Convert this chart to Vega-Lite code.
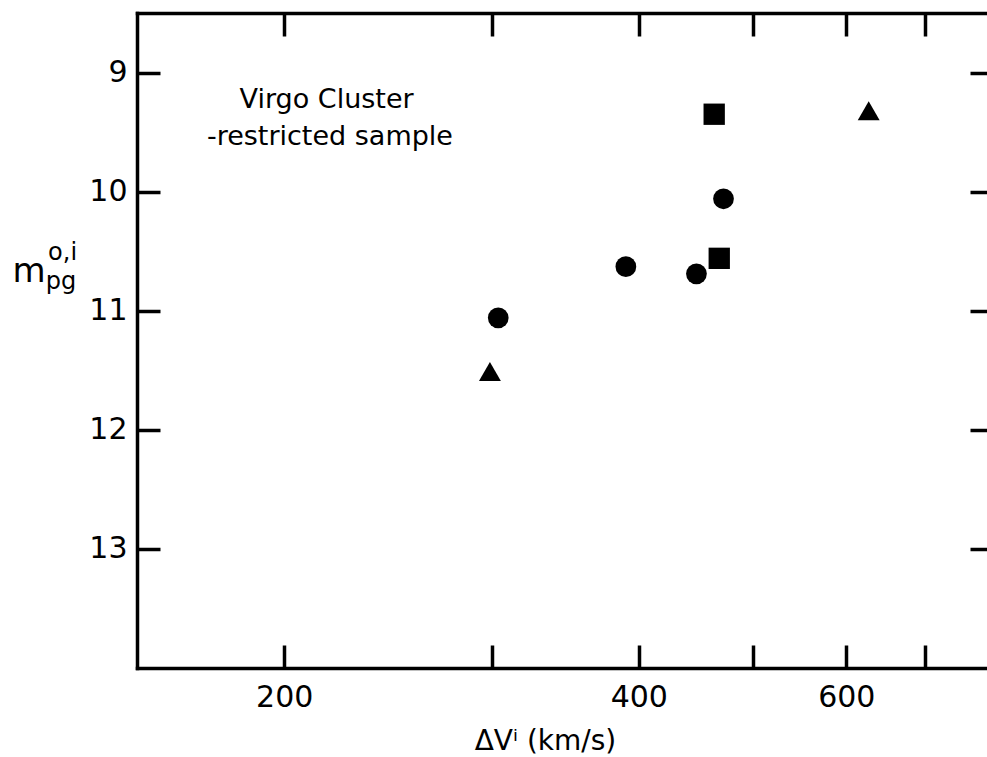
{
  "$schema": "https://vega.github.io/schema/vega-lite/v6.json",
  "width": 850,
  "height": 655,
  "autosize": {"type": "none"},
  "padding": {"left": 137, "top": 13, "right": 0, "bottom": 89},
  "background": "white",
  "config": {
    "view": {"stroke": null},
    "axis": {
      "domain": true,
      "domainColor": "black",
      "domainWidth": 3.5,
      "domainCap": "square",
      "grid": false,
      "tickColor": "black",
      "tickWidth": 3.5,
      "tickSize": -23,
      "labelFont": "DejaVu Sans",
      "labelFontSize": 30,
      "labelColor": "black",
      "titleFont": "DejaVu Sans",
      "titleColor": "black",
      "titleFontWeight": "normal"
    }
  },
  "datasets": {
    "points": [
      {"dv": 303.9, "m": 11.06, "type": "circle"},
      {"dv": 390.0, "m": 10.63, "type": "circle"},
      {"dv": 447.7, "m": 10.69, "type": "circle"},
      {"dv": 472.0, "m": 10.06, "type": "circle"},
      {"dv": 468.1, "m": 10.56, "type": "square"},
      {"dv": 463.5, "m": 9.35, "type": "square"},
      {"dv": 299.0, "m": 11.51, "type": "triangle"},
      {"dv": 626.9, "m": 9.32, "type": "triangle"}
    ],
    "note": [
      {"x": 217.3, "y": 9.30, "text": "Virgo Cluster"},
      {"x": 218.7, "y": 9.61, "text": "-restricted sample"}
    ],
    "ysub": [
      {"x": 129.7, "y": 10.574, "text": "o,i"},
      {"x": 129.3, "y": 10.817, "text": "pg"}
    ]
  },
  "layer": [
    {
      "data": {"name": "points"},
      "mark": {"type": "point", "filled": true, "opacity": 1, "color": "black"},
      "encoding": {
        "x": {
          "field": "dv", "type": "quantitative",
          "scale": {"type": "log", "domain": [150, 790], "nice": false},
          "axis": {
            "orient": "bottom",
            "values": [200, 300, 400, 500, 600, 700],
            "format": "d",
            "labelExpr": "datum.value == 200 || datum.value == 400 || datum.value == 600 ? datum.label : ''",
            "labelPadding": 37,
            "title": "ΔVⁱ (km/s)",
            "titleFontSize": 28,
            "titleX": 408,
            "titleY": 81,
            "titleAlign": "center",
            "titleBaseline": "alphabetic"
          }
        },
        "y": {
          "field": "m", "type": "quantitative",
          "scale": {"domain": [8.5, 14], "reverse": true, "nice": false, "zero": false},
          "axis": {
            "orient": "left",
            "values": [9, 10, 11, 12, 13],
            "labelPadding": 33,
            "title": "m",
            "titleAngle": 0,
            "titleFontSize": 34,
            "titleX": -108.5,
            "titleY": 268,
            "titleAlign": "center",
            "titleBaseline": "alphabetic"
          }
        },
        "shape": {
          "field": "type", "type": "nominal",
          "scale": {"domain": ["circle", "square", "triangle"], "range": ["circle", "square", "triangle-up"]},
          "legend": null
        },
        "size": {
          "field": "type", "type": "ordinal",
          "scale": {"domain": ["circle", "square", "triangle"], "range": [430, 480, 640]},
          "legend": null
        }
      }
    },
    {
      "data": {"name": "note"},
      "mark": {"type": "text", "font": "DejaVu Sans", "fontSize": 27, "align": "center", "baseline": "alphabetic", "color": "black"},
      "encoding": {
        "x": {
          "field": "x", "type": "quantitative",
          "scale": {"type": "log", "domain": [150, 790], "nice": false},
          "axis": {"orient": "top", "values": [200, 300, 400, 500, 600, 700], "labels": false, "title": null}
        },
        "y": {
          "field": "y", "type": "quantitative",
          "scale": {"domain": [8.5, 14], "reverse": true, "nice": false, "zero": false},
          "axis": {"orient": "right", "values": [9, 10, 11, 12, 13], "labels": false, "title": null, "domain": false, "tickSize": -17}
        },
        "text": {"field": "text"}
      }
    },
    {
      "data": {"name": "ysub"},
      "mark": {"type": "text", "font": "DejaVu Sans", "fontSize": 24, "align": "center", "baseline": "alphabetic", "color": "black"},
      "encoding": {
        "x": {
          "field": "x", "type": "quantitative",
          "scale": {"type": "log", "domain": [150, 790], "nice": false},
          "axis": null
        },
        "y": {
          "field": "y", "type": "quantitative",
          "scale": {"domain": [8.5, 14], "reverse": true, "nice": false, "zero": false},
          "axis": null
        },
        "text": {"field": "text"}
      }
    }
  ],
  "resolve": {"axis": {"x": "independent", "y": "independent"}}
}
